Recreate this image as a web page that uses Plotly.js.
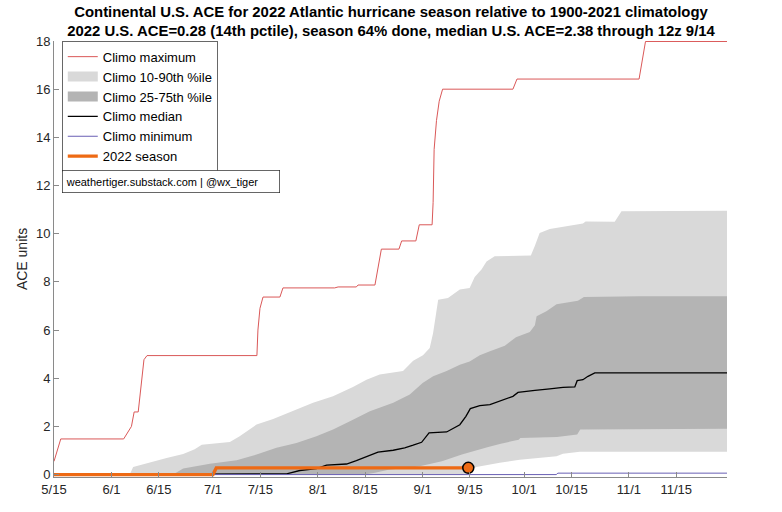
<!DOCTYPE html>
<html>
<head>
<meta charset="utf-8">
<script src="https://cdn.plot.ly/plotly-3.0.1.min.js"></script>
<style>html,body{margin:0;padding:0;background:#fff;}#chart{width:782px;height:512px;}</style>
</head>
<body>
<div id="chart"></div>
<script>
// x values are days since May 15 (5/15 = 0, 11/30 = 199)
var tickDays   = [0, 17, 31, 47, 61, 78, 92, 109, 123, 139, 153, 170, 184];
var tickLabels = ['5/15','6/1','6/15','7/1','7/15','8/1','8/15','9/1','9/15','10/1','10/15','11/1','11/15'];

var maxDays = [0, 2.0, 20.6, 22.9, 23.7, 24.9, 26.6, 27.5, 60.0, 60.3, 60.9, 61.8, 66.8, 67.7, 83.0, 84.0, 89.4, 89.9, 94.9, 96.8, 102.0, 102.8, 107.0, 108.0, 111.8, 112.1, 112.4, 113.1, 113.9, 114.9, 135.7, 136.9, 173.0, 174.9, 199];
var maxVals = [0.55, 1.48, 1.48, 2.0, 2.6, 2.6, 4.77, 4.94, 4.94, 6.0, 6.9, 7.37, 7.37, 7.75, 7.75, 7.79, 7.79, 7.87, 7.87, 9.36, 9.36, 9.7, 9.7, 10.37, 10.37, 11.3, 13.5, 14.7, 15.5, 16.0, 16.0, 16.42, 16.42, 17.98, 17.98];

var p90Days = [0, 22.4, 23.4, 28.3, 33.3, 38.2, 41.6, 43.7, 48.0, 52.0, 54.9, 59.9, 64.8, 70.7, 76.6, 82.5, 88.4, 92.4, 96.3, 103.2, 106.2, 109.1, 111.1, 112.1, 113.6, 116.5, 120.0, 122.9, 124.4, 126.4, 127.9, 130.3, 141.0, 142.2, 143.6, 146.6, 156.4, 157.2, 165.8, 167.8, 199];
var p90Vals = [0, 0, 0.32, 0.51, 0.69, 0.86, 1.05, 1.24, 1.31, 1.35, 1.59, 2.08, 2.31, 2.63, 2.98, 3.25, 3.64, 3.94, 4.15, 4.3, 4.73, 4.95, 5.26, 5.88, 7.26, 7.33, 7.68, 7.75, 8.2, 8.51, 8.85, 9.06, 9.1, 9.5, 10.03, 10.2, 10.42, 10.51, 10.5, 10.93, 10.95];

var p75Days = [0, 35.2, 38.2, 46.1, 54.0, 59.9, 65.8, 71.7, 77.6, 82.5, 87.5, 93.4, 100.3, 105.2, 109.0, 112.1, 116.1, 120.0, 122.9, 125.9, 128.9, 133.3, 136.6, 140.7, 142.2, 142.7, 145.6, 148.6, 154.9, 156.7, 173.2, 199];
var p75Vals = [0, 0, 0.25, 0.45, 0.6, 0.83, 1.11, 1.31, 1.59, 1.87, 2.21, 2.63, 2.98, 3.32, 3.8, 4.08, 4.3, 4.56, 4.7, 4.95, 5.12, 5.35, 5.7, 5.92, 6.2, 6.57, 6.78, 7.07, 7.22, 7.37, 7.4, 7.4];

var p25Days = [0, 91.9, 94.9, 98.9, 101.7, 106.2, 108.8, 114.7, 120.6, 125.5, 128.4, 132.1, 137.4, 137.9, 148.7, 154.7, 155.6, 199];
var p25Vals = [0, 0, 0.08, 0.2, 0.24, 0.3, 0.37, 0.55, 0.83, 1.04, 1.15, 1.28, 1.45, 1.52, 1.56, 1.66, 1.87, 1.9];

var p10Days = [0, 121.4, 122.4, 124.9, 131.8, 137.7, 148.6, 150.5, 155.5, 199];
var p10Vals = [0, 0, 0.15, 0.32, 0.49, 0.62, 0.76, 0.87, 0.95, 0.95];

var medDays = [0, 65.9, 68.8, 72.7, 77.6, 80.6, 86.5, 89.4, 92.4, 95.8, 100.3, 103.7, 106.2, 108.7, 110.9, 116.1, 120.0, 121.8, 123.1, 125.9, 128.9, 132.8, 135.7, 137.2, 141.2, 142.2, 146.6, 150.5, 154.0, 154.7, 156.4, 157.9, 159.9, 199];
var medVals = [0, 0, 0.03, 0.17, 0.25, 0.39, 0.44, 0.58, 0.73, 0.93, 1.01, 1.11, 1.22, 1.34, 1.73, 1.77, 2.07, 2.42, 2.74, 2.86, 2.9, 3.11, 3.25, 3.41, 3.46, 3.5, 3.56, 3.62, 3.64, 3.9, 3.94, 4.08, 4.22, 4.22];

var minDays = [0, 148.5, 149.0, 199];
var minVals = [0, 0, 0.06, 0.06];

var seasonDays = [0, 47, 48, 122.5];
var seasonVals = [0, 0, 0.28, 0.28];

var FONT = 'Liberation Sans, Arial, Helvetica, sans-serif';
var LIGHT = '#d9d9d9', DARK = '#b4b4b4';
var RED = 'rgb(218,88,88)', PURPLE = 'rgb(105,95,180)', ORANGE = '#EE6A14';

var last = seasonDays.length - 1;
var traces = [
  // shaded climatology bands
  {x: p10Days, y: p10Vals, type: 'scatter', mode: 'lines', line: {width: 0, color: LIGHT}, showlegend: false, hoverinfo: 'skip'},
  {x: p90Days, y: p90Vals, type: 'scatter', mode: 'lines', line: {width: 0, color: LIGHT}, fill: 'tonexty', fillcolor: LIGHT, showlegend: false},
  {x: p25Days, y: p25Vals, type: 'scatter', mode: 'lines', line: {width: 0, color: DARK}, showlegend: false, hoverinfo: 'skip'},
  {x: p75Days, y: p75Vals, type: 'scatter', mode: 'lines', line: {width: 0, color: DARK}, fill: 'tonexty', fillcolor: DARK, showlegend: false},
  // legend keys for the bands (no data)
  {x: [null], y: [null], type: 'scatter', mode: 'lines', line: {width: 14, color: LIGHT}, name: 'Climo 10-90th %ile', legendrank: 2},
  {x: [null], y: [null], type: 'scatter', mode: 'lines', line: {width: 14, color: DARK}, name: 'Climo 25-75th %ile', legendrank: 3},
  // lines
  {x: maxDays, y: maxVals, type: 'scatter', mode: 'lines', line: {width: 1, color: RED}, name: 'Climo maximum', legendrank: 1},
  {x: medDays, y: medVals, type: 'scatter', mode: 'lines', line: {width: 1.3, color: '#000000'}, name: 'Climo median', legendrank: 4},
  {x: minDays, y: minVals, type: 'scatter', mode: 'lines', line: {width: 1, color: PURPLE}, name: 'Climo minimum', legendrank: 5},
  {x: seasonDays, y: seasonVals, type: 'scatter', mode: 'lines', line: {width: 3.4, color: ORANGE}, name: '2022 season', legendrank: 6},
  {x: [seasonDays[last]], y: [seasonVals[last]], type: 'scatter', mode: 'markers', marker: {size: 11, color: ORANGE, line: {width: 1.5, color: '#000'}}, showlegend: false}
];

var layout = {
  width: 782, height: 512,
  margin: {l: 54, r: 55, t: 41, b: 35, pad: 0},
  paper_bgcolor: '#fff', plot_bgcolor: '#fff',
  font: {family: FONT, color: '#262626', size: 13},
  showlegend: true,
  title: {
    text: '<b>Continental U.S. ACE for 2022 Atlantic hurricane season relative to 1900-2021 climatology</b><br><b>2022 U.S. ACE=0.28 (14th pctile), season 64% done, median U.S. ACE=2.38 through 12z 9/14</b>',
    font: {family: FONT, size: 14.9, color: '#000'},
    x: 0.5, xref: 'container', xanchor: 'center',
    y: 0.967, yref: 'container', yanchor: 'top'
  },
  xaxis: {
    range: [0, 199], tickmode: 'array', tickvals: tickDays, ticktext: tickLabels,
    showgrid: false, zeroline: false, showline: true, linecolor: '#8a8a8a', linewidth: 1,
    ticks: 'inside', ticklen: 5, tickcolor: '#8a8a8a', tickfont: {size: 13, color: '#262626'}
  },
  yaxis: {
    range: [-0.1, 18], tickmode: 'array', tickvals: [0,2,4,6,8,10,12,14,16,18],
    showgrid: false, zeroline: false, showline: true, linecolor: '#8a8a8a', linewidth: 1,
    ticks: 'inside', ticklen: 5, tickcolor: '#8a8a8a', tickfont: {size: 13, color: '#262626'},
    title: {text: 'ACE units', font: {size: 14, color: '#262626'}, standoff: 5}
  },
  legend: {
    x: 0.012, y: 1.0, xanchor: 'left', yanchor: 'top',
    bgcolor: '#fff', bordercolor: '#262626', borderwidth: 0.7,
    font: {family: FONT, size: 13, color: '#000'}, itemwidth: 30, traceorder: 'normal'
  },
  annotations: [{
    text: 'weathertiger.substack.com | @wx_tiger',
    xref: 'paper', yref: 'paper', x: 0.012, y: 0.704, xanchor: 'left', yanchor: 'top',
    showarrow: false, align: 'left', width: 211, height: 16,
    font: {family: FONT, size: 11, color: '#000'},
    bgcolor: '#fff', bordercolor: '#262626', borderwidth: 0.7, borderpad: 3
  }]
};

Plotly.newPlot('chart', traces, layout, {displayModeBar: false, staticPlot: true});
</script>
</body>
</html>
